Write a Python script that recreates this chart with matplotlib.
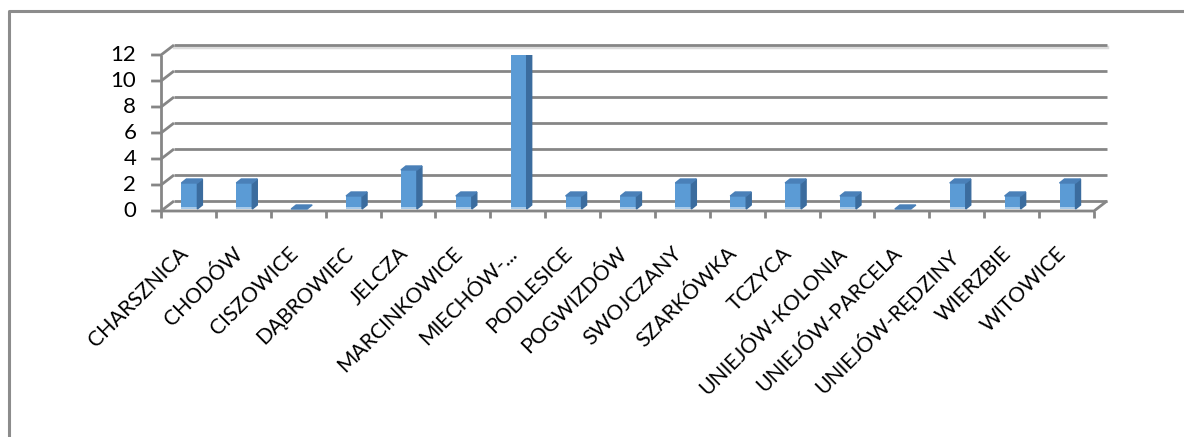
"""
Excel-style 3D column chart of counts per village.
"""

import matplotlib
matplotlib.use('Agg')
import matplotlib.pyplot as plt
from matplotlib.patches import Polygon

categories = ['CHARSZNICA', 'CHODÓW', 'CISZOWICE', 'DĄBROWIEC', 'JELCZA',
              'MARCINKOWICE', 'MIECHÓW-...', 'PODLESICE', 'POGWIZDÓW',
              'SWOJCZANY', 'SZARKÓWKA', 'TCZYCA', 'UNIEJÓW-KOLONIA',
              'UNIEJÓW-PARCELA', 'UNIEJÓW-RĘDZINY', 'WIERZBIE', 'WITOWICE']
values = [2, 2, 0, 1, 3, 1, 12, 1, 1, 2, 1, 2, 1, 0, 2, 1, 2]
yticks = [0, 2, 4, 6, 8, 10, 12]

plt.rcParams['font.family'] = ['Lato', 'DejaVu Sans']

W, H = 1184, 437
fig = plt.figure(figsize=(W / 100, H / 100), dpi=100)

# front plane of the plot in pixels
x0, x1 = 161, 1094
y0, y1 = 211, 55
ax = fig.add_axes([x0 / W, 1 - y0 / H, (x1 - x0) / W, (y0 - y1) / H])
n = len(categories)
ax.set_xlim(0, n)
ax.set_ylim(0, 12)
ax.axis('off')

# depth of the back wall in data units
dx, dy = 13 / ((x1 - x0) / n), 10 / ((y0 - y1) / 12)
grid_c = '#868686'
lw = 2.0

kw = dict(color=grid_c, lw=lw, clip_on=False, solid_capstyle='butt')
# back wall gridlines and left wall diagonals
for v in yticks:
    ax.plot([dx, n + dx], [v + dy, v + dy], **kw)
    ax.plot([-0.18, 0, dx], [v, v, v + dy], **kw)
ax.plot([dx, n + dx], [12 + dy - 0.12, 12 + dy - 0.12], color='#dcdcdc', lw=2.5,
        clip_on=False, zorder=0)
# floor
ax.plot([0, n, n + dx], [0, 0, dy], **kw)
ax.plot([0, 0], [0, 12], **kw)
for k in range(n + 1):
    ax.plot([k, k], [0, -0.5], **kw)

# bars
bw = 16 / ((x1 - x0) / n)
bdx, bdy = 5 / ((x1 - x0) / n), 4 / ((y0 - y1) / 12)
f_front = 0.2
face_c, side_c, top_c, base_c = '#5B9BD5', '#3B6C9E', '#4A80B8', '#A9CBEA'
for i, v in enumerate(values):
    left = i + 0.5 - bw / 2 - 0.03 + f_front * dx
    base = f_front * dy
    top = base + v
    if v > 0:
        ax.bar(left, v, width=bw, bottom=base, align='edge', color=face_c,
               zorder=3)
        ax.bar(left, 0.12, width=bw, bottom=base, align='edge', color=base_c,
               zorder=3)
        ax.add_patch(Polygon([(left + bw, base), (left + bw + bdx, base + bdy),
                              (left + bw + bdx, top + bdy), (left + bw, top)],
                             closed=True, color=side_c, zorder=3))
    ax.add_patch(Polygon([(left, top), (left + bw, top),
                          (left + bw + bdx, top + bdy), (left + bdx, top + bdy)],
                         closed=True, color=top_c, zorder=3))

# value axis labels
for v in yticks:
    ax.text(-0.45, v, str(v), ha='right', va='center', fontsize=16,
            clip_on=False)

# category labels
for i, name in enumerate(categories):
    ax.text(i + 0.31, -2.5, name, rotation=45, rotation_mode='anchor',
            ha='right', va='top', fontsize=15.2, clip_on=False)

# chart border (top and left)
fig.add_artist(plt.Line2D([9 / W, 9 / W, 1], [0, 1 - 11 / H, 1 - 11 / H],
                          color='#8c8c8c', lw=2.2, transform=fig.transFigure))

plt.savefig('out.png', dpi=100)
plt.close()
